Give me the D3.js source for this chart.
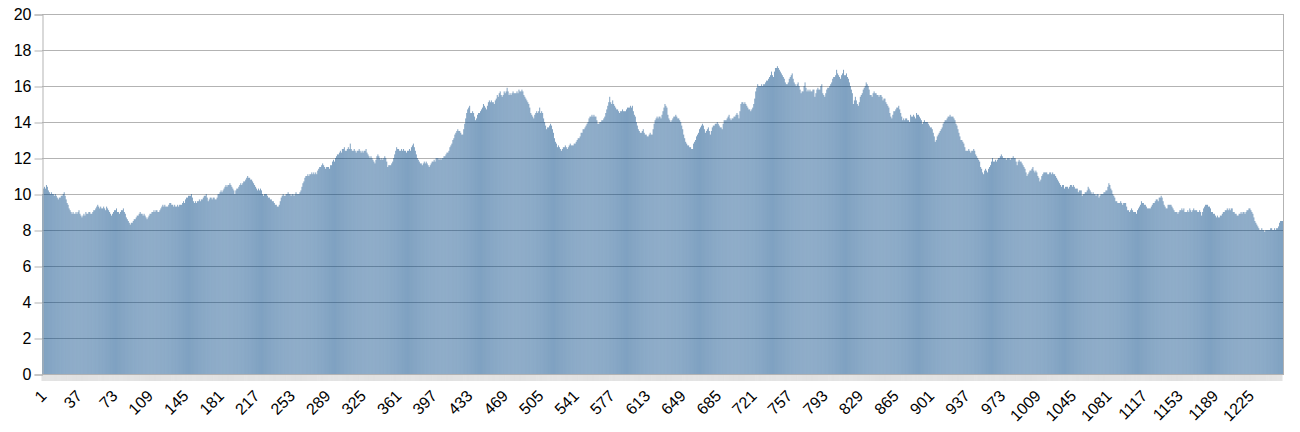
<!DOCTYPE html>
<html>
<head>
<meta charset="utf-8">
<script src="https://cdn.jsdelivr.net/npm/d3@7"></script>
<style>
  body { margin: 0; background: #fff; }
  text { font-family: "Liberation Sans", Arial, sans-serif; }
</style>
</head>
<body>
<div id="chart"></div>
<script>
const width = 1300;
const height = 432;
const plotLeft = 42, plotRight = 1283, plotTop = 14, plotBottom = 374;

// values, 100 categories per block
const block01 = [
  10.0, 10.3, 10.4, 10.3, 10.5, 10.4, 10.2, 10.1, 10.0, 10.1,
  10.0, 10.0, 9.9, 10.0, 9.9, 9.8, 9.7, 9.8, 9.8, 9.9,
  9.9, 10.0, 10.1, 9.9, 9.7, 9.5, 9.4, 9.2, 9.1, 9.0,
  8.9, 9.0, 8.9, 8.9, 9.0, 8.9, 9.0, 9.1, 8.9, 8.8,
  8.7, 8.8, 8.9, 8.8, 9.0, 8.9, 8.9, 9.0, 9.0, 8.9,
  8.9, 9.0, 9.1, 9.1, 9.2, 9.3, 9.4, 9.3, 9.2, 9.3,
  9.2, 9.2, 9.3, 9.2, 9.1, 9.3, 9.2, 9.1, 9.0, 8.9,
  8.8, 8.9, 9.0, 9.1, 9.1, 9.2, 9.0, 9.0, 8.9, 9.0,
  9.1, 9.1, 9.2, 9.0, 8.9, 8.7, 8.6, 8.5, 8.4, 8.3,
  8.4, 8.4, 8.5, 8.6, 8.6, 8.7, 8.8, 8.8, 8.9, 9.0
];
const block02 = [
  8.9, 8.9, 8.8, 8.9, 8.8, 8.7, 8.6, 8.7, 8.8, 8.9,
  8.9, 9.0, 9.0, 9.1, 9.0, 9.1, 9.1, 9.0, 9.0, 9.1,
  9.2, 9.3, 9.4, 9.3, 9.4, 9.3, 9.3, 9.3, 9.4, 9.5,
  9.5, 9.4, 9.4, 9.3, 9.4, 9.3, 9.3, 9.4, 9.3, 9.4,
  9.4, 9.4, 9.5, 9.6, 9.5, 9.7, 9.8, 9.8, 9.9, 9.9,
  9.9, 10.0, 9.8, 9.6, 9.5, 9.6, 9.5, 9.6, 9.6, 9.7,
  9.6, 9.7, 9.7, 9.8, 9.9, 9.9, 10.0, 9.8, 9.6, 9.7,
  9.8, 9.8, 9.7, 9.8, 9.8, 9.7, 9.7, 9.8, 10.0, 10.0,
  10.1, 10.2, 10.1, 10.2, 10.3, 10.4, 10.5, 10.4, 10.5, 10.5,
  10.6, 10.5, 10.4, 10.3, 10.2, 10.0, 10.2, 10.3, 10.3, 10.4
];
const block03 = [
  10.5, 10.6, 10.5, 10.6, 10.7, 10.7, 10.8, 10.9, 11.0, 10.9,
  10.9, 10.8, 10.8, 10.7, 10.6, 10.5, 10.4, 10.3, 10.2, 10.3,
  10.2, 10.3, 10.2, 10.0, 9.9, 10.0, 10.0, 10.0, 9.9, 9.8,
  9.8, 9.7, 9.7, 9.6, 9.6, 9.5, 9.4, 9.4, 9.3, 9.3,
  9.4, 9.6, 9.8, 9.9, 10.0, 9.9, 9.9, 10.0, 10.0, 10.1,
  10.0, 10.0, 9.9, 10.0, 10.0, 9.9, 10.0, 10.1, 10.0, 10.0,
  10.0, 10.1, 10.2, 10.4, 10.6, 10.7, 10.9, 11.0, 11.0, 11.1,
  11.0, 11.1, 11.1, 11.2, 11.1, 11.2, 11.1, 11.2, 11.1, 11.3,
  11.4, 11.5, 11.5, 11.6, 11.7, 11.6, 11.5, 11.4, 11.5, 11.5,
  11.5, 11.4, 11.6, 11.6, 11.8, 11.9, 11.8, 12.0, 12.1, 12.2
];
const block04 = [
  12.2, 12.3, 12.4, 12.3, 12.5, 12.5, 12.6, 12.4, 12.4, 12.5,
  12.6, 12.5, 12.8, 12.5, 12.4, 12.4, 12.5, 12.4, 12.3, 12.4,
  12.4, 12.5, 12.4, 12.3, 12.4, 12.3, 12.4, 12.4, 12.5, 12.3,
  12.2, 12.1, 12.0, 12.1, 12.0, 11.9, 11.8, 11.7, 11.9, 12.1,
  12.2, 12.1, 12.0, 11.9, 12.0, 11.9, 12.0, 12.1, 12.0, 11.8,
  11.5, 11.6, 11.6, 11.6, 11.7, 11.8, 12.0, 12.2, 12.4, 12.6,
  12.5, 12.5, 12.4, 12.4, 12.5, 12.4, 12.5, 12.4, 12.4, 12.3,
  12.4, 12.4, 12.5, 12.4, 12.6, 12.7, 12.8, 12.6, 12.4, 12.2,
  12.0, 11.9, 11.8, 11.7, 11.7, 11.6, 11.7, 11.8, 11.7, 11.8,
  11.7, 11.6, 11.5, 11.6, 11.7, 11.8, 11.8, 11.9, 11.8, 12.0
];
const block05 = [
  12.0, 12.0, 11.9, 12.0, 11.9, 12.0, 12.0, 12.1, 12.1, 12.2,
  12.3, 12.3, 12.4, 12.6, 12.7, 12.8, 13.0, 13.1, 13.3, 13.4,
  13.5, 13.6, 13.5, 13.5, 13.4, 13.3, 13.3, 13.6, 13.9, 14.2,
  14.5, 14.7, 14.8, 14.9, 14.5, 14.5, 14.6, 14.5, 14.3, 14.1,
  14.2, 14.4, 14.5, 14.5, 14.6, 14.7, 14.8, 15.0, 14.9, 14.8,
  14.7, 14.9, 15.1, 15.2, 15.1, 15.2, 15.1, 15.1, 15.0, 15.2,
  15.3, 15.5, 15.4, 15.6, 15.7, 15.5, 15.4, 15.5, 15.7, 15.6,
  15.7, 15.9, 15.7, 15.5, 15.6, 15.5, 15.6, 15.7, 15.6, 15.6,
  15.6, 15.7, 15.6, 15.8, 15.7, 15.7, 15.8, 15.7, 15.5, 15.4,
  15.3, 15.2, 15.1, 15.0, 14.8, 14.5, 14.4, 14.3, 14.2, 14.4
];
const block06 = [
  14.5, 14.6, 14.5, 14.6, 14.8, 14.5, 14.6, 14.5, 14.2, 14.0,
  13.8, 13.6, 13.7, 13.7, 13.8, 13.9, 13.8, 13.6, 13.4, 13.1,
  12.9, 12.8, 12.6, 12.7, 12.6, 12.5, 12.4, 12.5, 12.6, 12.6,
  12.7, 12.6, 12.5, 12.6, 12.7, 12.8, 12.7, 12.7, 12.7, 12.8,
  12.8, 12.9, 13.0, 13.1, 13.1, 13.2, 13.4, 13.4, 13.6, 13.6,
  13.7, 13.8, 13.9, 14.0, 14.2, 14.3, 14.3, 14.4, 14.3, 14.4,
  14.3, 14.3, 14.1, 13.9, 13.9, 14.0, 14.0, 14.1, 14.1, 14.2,
  14.3, 14.5, 14.7, 14.9, 15.1, 15.4, 15.1, 15.0, 15.2, 15.0,
  14.9, 14.8, 14.7, 14.7, 14.6, 14.5, 14.6, 14.6, 14.7, 14.6,
  14.6, 14.6, 14.7, 14.8, 14.8, 14.8, 14.9, 14.8, 14.9, 14.6
];
const block07 = [
  14.4, 14.3, 14.0, 13.8, 13.6, 13.5, 13.4, 13.4, 13.5, 13.6,
  13.4, 13.3, 13.3, 13.2, 13.2, 13.3, 13.4, 13.3, 13.3, 13.6,
  13.9, 14.1, 14.2, 14.3, 14.2, 14.3, 14.3, 14.2, 14.4, 14.6,
  14.8, 15.0, 14.9, 14.8, 14.4, 14.2, 14.1, 14.0, 14.1, 14.2,
  14.3, 14.3, 14.4, 14.3, 14.2, 14.2, 14.1, 14.0, 13.8, 13.6,
  13.3, 13.1, 12.9, 12.8, 12.7, 12.7, 12.6, 12.6, 12.5, 12.5,
  12.8, 12.9, 13.0, 13.2, 13.3, 13.4, 13.6, 13.7, 13.8, 13.9,
  13.8, 13.6, 13.4, 13.5, 13.6, 13.7, 13.5, 13.3, 13.5, 13.7,
  13.8, 13.8, 13.9, 13.9, 14.0, 13.9, 13.8, 13.7, 13.7, 13.6,
  13.9, 14.1, 14.1, 14.1, 14.2, 14.3, 14.4, 14.2, 14.1, 14.2
];
const block08 = [
  14.2, 14.3, 14.3, 14.4, 14.5, 14.4, 14.2, 14.6, 15.0, 15.1,
  15.1, 15.0, 15.1, 15.0, 14.9, 14.8, 14.7, 14.7, 14.6, 14.7,
  14.8, 15.0, 15.3, 15.7, 15.9, 16.1, 16.0, 16.0, 16.0, 16.1,
  16.0, 16.1, 16.1, 16.2, 16.3, 16.3, 16.4, 16.5, 16.6, 16.8,
  16.6, 16.5, 16.8, 17.0, 17.0, 17.1, 17.0, 16.9, 16.8, 16.7,
  16.6, 16.5, 16.4, 16.2, 16.1, 16.1, 16.2, 16.4, 16.5, 16.6,
  16.7, 16.4, 16.2, 16.1, 16.0, 16.1, 16.2, 16.0, 15.8, 15.6,
  15.7, 15.7, 16.0, 16.2, 15.9, 15.7, 15.8, 15.7, 15.8, 15.7,
  15.7, 15.8, 15.8, 15.4, 15.6, 15.8, 15.9, 15.8, 15.8, 16.0,
  16.1, 15.6, 15.5, 15.4, 15.6, 15.8, 15.9, 15.9, 16.0, 16.1
];
const block09 = [
  16.2, 16.4, 16.5, 16.5, 16.6, 16.9, 16.7, 16.6, 16.5, 16.4,
  16.6, 16.7, 16.9, 16.6, 16.6, 16.7, 16.5, 16.4, 16.2, 16.0,
  15.8, 15.6, 15.0, 15.2, 15.4, 15.2, 15.0, 14.9, 15.1, 15.4,
  15.5, 15.6, 15.8, 15.9, 16.0, 16.2, 16.1, 16.0, 15.8, 15.5,
  15.5, 15.4, 15.6, 15.7, 15.6, 15.6, 15.5, 15.5, 15.4, 15.5,
  15.5, 15.4, 15.2, 15.3, 15.3, 15.1, 15.0, 14.9, 14.8, 14.5,
  14.3, 14.2, 14.4, 14.6, 14.6, 14.7, 14.8, 14.8, 14.9, 14.7,
  14.5, 14.3, 14.1, 14.2, 14.1, 14.2, 14.2, 14.1, 14.1, 14.0,
  14.4, 14.3, 14.3, 14.4, 14.3, 14.2, 14.5, 14.4, 14.4, 14.3,
  14.2, 14.1, 13.9, 14.0, 14.1, 14.0, 14.0, 14.0, 13.9, 13.8
];
const block10 = [
  13.7, 13.7, 13.6, 13.4, 13.2, 12.9, 13.0, 13.2, 13.3, 13.4,
  13.5, 13.6, 13.7, 13.9, 14.0, 14.1, 14.1, 14.2, 14.3, 14.3,
  14.4, 14.3, 14.3, 14.3, 14.2, 14.1, 13.9, 13.8, 13.6, 13.4,
  13.2, 13.0, 13.0, 12.9, 12.8, 12.6, 12.4, 12.4, 12.4, 12.5,
  12.4, 12.3, 12.4, 12.4, 12.5, 12.4, 12.2, 12.1, 12.0, 11.9,
  11.8, 11.5, 11.4, 11.2, 11.1, 11.3, 11.4, 11.3, 11.2, 11.4,
  11.5, 11.6, 11.8, 12.0, 11.8, 11.8, 11.9, 11.8, 11.9, 12.0,
  12.0, 12.1, 12.2, 12.1, 12.0, 12.0, 12.0, 11.9, 12.0, 12.0,
  12.0, 11.9, 12.0, 12.0, 12.1, 12.0, 12.0, 11.8, 11.6, 11.8,
  11.9, 11.8, 11.8, 11.7, 11.6, 11.5, 11.4, 11.2, 11.0, 11.1
];
const block11 = [
  11.2, 11.3, 11.3, 11.4, 11.5, 11.3, 11.2, 11.3, 11.2, 11.0,
  10.9, 10.7, 10.8, 11.0, 11.1, 11.2, 11.2, 11.2, 11.2, 11.1,
  11.1, 11.2, 11.2, 11.1, 11.2, 11.1, 11.1, 11.0, 10.9, 10.8,
  10.7, 10.6, 10.5, 10.4, 10.5, 10.5, 10.3, 10.4, 10.4, 10.4,
  10.3, 10.4, 10.5, 10.5, 10.4, 10.5, 10.4, 10.3, 10.3, 10.3,
  10.1, 10.2, 10.2, 10.2, 9.9, 10.0, 10.0, 10.1, 10.1, 10.2,
  10.4, 10.3, 10.2, 10.1, 10.0, 10.1, 10.0, 10.0, 9.9, 10.0,
  10.0, 9.8, 9.9, 10.0, 10.0, 10.0, 10.1, 10.1, 10.2, 10.2,
  10.4, 10.6, 10.5, 10.3, 10.2, 10.0, 9.9, 9.8, 9.6, 9.6,
  9.5, 9.5, 9.5, 9.6, 9.5, 9.4, 9.5, 9.5, 9.5, 9.3
];
const block12 = [
  9.1, 9.1, 9.0, 9.1, 9.2, 9.1, 9.0, 9.0, 9.0, 8.9,
  9.1, 9.2, 9.3, 9.4, 9.6, 9.5, 9.5, 9.4, 9.4, 9.3,
  9.2, 9.2, 9.2, 9.2, 9.3, 9.4, 9.5, 9.5, 9.6, 9.7,
  9.7, 9.6, 9.8, 9.8, 9.9, 9.8, 9.6, 9.4, 9.3, 9.2,
  9.2, 9.4, 9.4, 9.4, 9.4, 9.3, 9.2, 9.1, 9.0, 9.0,
  9.0, 8.9, 9.0, 9.1, 9.1, 9.2, 9.1, 9.2, 9.0, 9.0,
  9.0, 9.1, 9.0, 9.2, 9.1, 9.0, 9.1, 9.2, 9.1, 9.1,
  9.1, 9.0, 9.0, 9.1, 9.0, 8.8, 9.0, 9.2, 9.3, 9.4,
  9.4, 9.4, 9.3, 9.3, 9.2, 9.0, 9.0, 8.9, 8.9, 8.8,
  8.7, 8.8, 8.7, 8.7, 8.8, 8.8, 8.9, 9.0, 9.0, 9.1
];
const block13 = [
  9.1, 9.2, 9.1, 9.2, 9.1, 9.2, 9.2, 9.0, 9.0, 8.9,
  8.9, 8.8, 8.8, 8.9, 8.9, 9.0, 8.9, 9.0, 9.0, 8.9,
  9.0, 9.1, 9.1, 9.2, 9.2, 9.1, 9.0, 8.9, 8.7, 8.5,
  8.4, 8.3, 8.2, 8.1, 8.0, 8.0, 8.1, 8.0, 8.0, 7.9,
  8.0, 8.0, 8.0, 8.0, 8.0, 8.1, 8.1, 8.0, 8.0, 8.1,
  8.0, 8.1, 8.1, 8.2, 8.4, 8.5, 8.5, 8.5
];

const values = [].concat(block01, block02, block03, block04, block05, block06, block07,
  block08, block09, block10, block11, block12, block13);
const categories = values.map((d, i) => i + 1);

const xLabels = [1, 37, 73, 109, 145, 181, 217, 253, 289, 325, 361, 397, 433, 469, 505,
  541, 577, 613, 649, 685, 721, 757, 793, 829, 865, 901, 937, 973, 1009, 1045, 1081,
  1117, 1153, 1189, 1225];
const yTicks = [0, 2, 4, 6, 8, 10, 12, 14, 16, 18, 20];

const gridColor = '#b3b3b3';
const barColor = '#004586';

const svg = d3.select("#chart")
    .append("svg")
    .attr("width", width)
    .attr("height", height);

const x = d3.scaleBand()
    .domain(categories)
    .range([plotLeft, plotRight])
    .padding(0);

const y = d3.scaleLinear()
    .domain([0, 20])
    .range([plotBottom, plotTop]);

// horizontal grid
svg.append("g")
    .selectAll("line")
    .data(yTicks)
    .join("line")
    .attr("x1", plotLeft)
    .attr("x2", plotRight)
    .attr("y1", d => Math.round(y(d)) + 0.5)
    .attr("y2", d => Math.round(y(d)) + 0.5)
    .attr("stroke", gridColor)
    .attr("stroke-width", 1);

// bars
svg.append("g")
    .selectAll("rect")
    .data(values)
    .join("rect")
    .attr("x", (d, i) => x(categories[i]))
    .attr("y", d => y(d))
    .attr("width", x.bandwidth())
    .attr("height", d => y(0) - y(d))
    .attr("fill", barColor)
    .attr("fill-opacity", 0.5);

// right wall edge
svg.append("line")
    .attr("x1", plotRight + 0.5).attr("x2", plotRight + 0.5)
    .attr("y1", plotTop).attr("y2", plotBottom)
    .attr("stroke", gridColor);

// y axis
const yAxis = svg.append("g")
    .attr("transform", `translate(${plotLeft + 0.5},0.5)`)
    .call(d3.axisLeft(y).tickValues(yTicks).tickSize(8).tickPadding(3));
yAxis.select(".domain").attr("stroke", gridColor);
yAxis.selectAll(".tick line").attr("stroke", gridColor);
yAxis.selectAll(".tick text")
    .attr("fill", "#000")
    .style("font-size", "16px");

// category tick marks along the bottom
svg.append("g")
    .selectAll("line")
    .data(categories)
    .join("line")
    .attr("x1", d => x(d))
    .attr("x2", d => x(d))
    .attr("y1", plotBottom)
    .attr("y2", plotBottom + 7)
    .attr("stroke", gridColor)
    .attr("stroke-width", 0.4);

svg.append("line")
    .attr("x1", plotLeft).attr("x2", plotRight + 1)
    .attr("y1", plotBottom + 0.5).attr("y2", plotBottom + 0.5)
    .attr("stroke", gridColor);

// rotated category labels
svg.append("g")
    .selectAll("text")
    .data(xLabels)
    .join("text")
    .attr("transform", d => `translate(${x(d) + x.bandwidth() / 2 + 1},${plotBottom + 19}) rotate(-45)`)
    .attr("text-anchor", "end")
    .attr("dy", "0.35em")
    .attr("fill", "#000")
    .style("font-size", "16px")
    .text(d => d);
</script>
</body>
</html>
